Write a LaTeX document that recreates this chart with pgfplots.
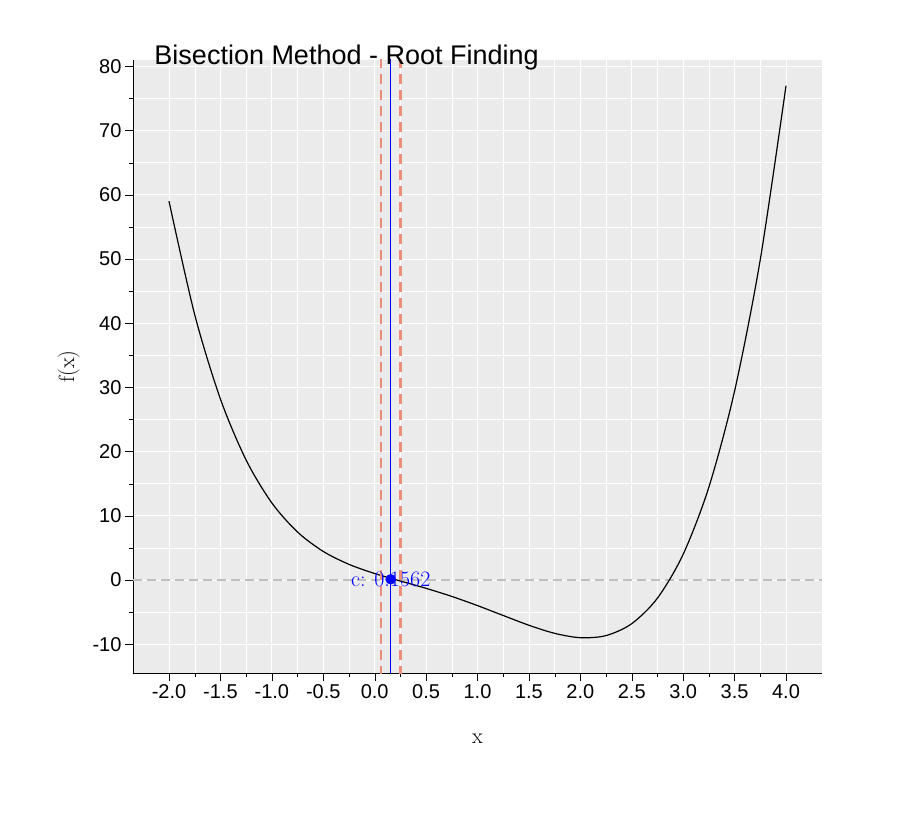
\documentclass[border=0pt]{standalone}
\usepackage{pgfplots}
\pgfplotsset{compat=1.18}
\usepackage{fontspec}
\newfontfamily\hel{Liberation Sans}
\definecolor{salmon}{RGB}{236,140,122}
\begin{document}
\begin{tikzpicture}
\path[use as bounding box] (-133pt,-147pt) rectangle (785pt,673pt);
\begin{axis}[
  at={(0,0)}, anchor=south west,
  width=689pt, height=613pt, scale only axis,
  xmin=-2.35, xmax=4.35, ymin=-14.5, ymax=81,
  axis background/.style={fill=black!8},
  axis x line*=bottom, axis y line*=left,
  xtick={-2,-1.5,...,4}, ytick={-10,0,...,80},
  minor x tick num=1, minor y tick num=1,
  grid=both, major grid style={white, line width=0.8pt}, minor grid style={white, line width=0.4pt},
  tick align=outside, tick style={black}, major tick length=8pt, minor tick length=4pt,
  xticklabel style={font=\hel\fontsize{20}{24}\selectfont, inner xsep=0pt},
  yticklabel style={font=\hel\fontsize{20}{24}\selectfont},
  xticklabel={\pgfmathprintnumber[fixed,fixed zerofill,precision=1]{\tick}},
  /pgf/number format/assume math mode=true,
  xlabel={\fontsize{22}{26}\selectfont x}, ylabel={\fontsize{22}{26}\selectfont f(x)},
  xlabel style={yshift=-28pt}, ylabel style={yshift=6pt},
  title={\hel\fontsize{27}{32}\selectfont Bisection Method - Root Finding},
  title style={at={(0.31,1)}, yshift=-20pt},
  clip=true,
]
\addplot[gray!50, line width=2pt, dash pattern=on 9pt off 5pt] coordinates {(-2.35,0) (4.35,0)};
\addplot[black, line width=1.2pt, smooth] coordinates {
(-2,59) (-1.75,41.33) (-1.5,28.19) (-1.25,18.68) (-1,12) (-0.75,7.46) (-0.5,4.44) (-0.25,2.43)
(0,1) (0.25,-0.17) (0.5,-1.31) (0.75,-2.57) (1,-4) (1.25,-5.54) (1.5,-7.06) (1.75,-8.32)
(2,-9) (2.25,-8.67) (2.5,-6.81) (2.75,-2.83) (3,4) (3.25,14.46) (3.5,29.44) (3.75,49.93) (4,77)};
\addplot[salmon, line width=2.5pt, dash pattern=on 10pt off 6pt] coordinates {(0.0625,-20) (0.0625,90)};
\addplot[salmon, line width=2.5pt, dash pattern=on 10pt off 6pt] coordinates {(0.25,-20) (0.25,90)};
\addplot[blue, line width=1.2pt] coordinates {(0.1562,-20) (0.1562,90)};
\addplot[blue, only marks, mark=*, mark size=5pt] coordinates {(0.1562,0.1)};
\node[blue, font=\fontsize{22}{26}\selectfont, anchor=south] at (axis cs:0.1562,-1.6) {c: 0.1562};
\end{axis}
\end{tikzpicture}
\end{document}
